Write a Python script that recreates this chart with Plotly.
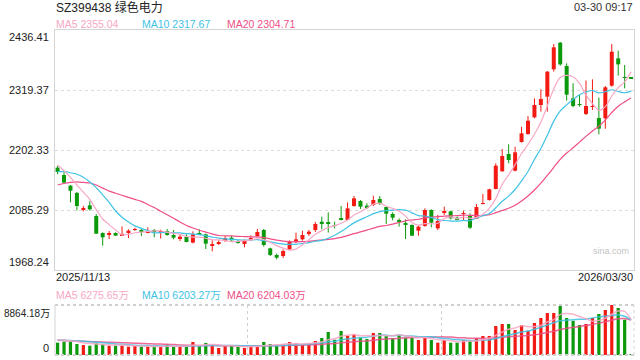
import plotly.graph_objects as go

# ---------------- data ----------------
title_text = "SZ399438 绿色电力"
time_text = "03-30 09:17"
start_date = "2025/11/13"
end_date = "2026/03/30"
price_ticks = [1968.24, 2085.29, 2202.33, 2319.37, 2436.41]
vol_max = 8864.18
ma_labels = ["MA5 2355.04", "MA10 2317.67", "MA20 2304.71"]
vol_ma_labels = ["MA5 6275.65万", "MA10 6203.27万", "MA20 6204.03万"]

opens = [2167.9, 2153.6, 2132.8, 2118.4, 2087.2, 2094.4, 2073.6, 2040.4, 2037.8, 2040.4,
         2036.5, 2040.4, 2046.3, 2045.0, 2041.1, 2045.0, 2041.1, 2044.3, 2036.5, 2028.7,
         2032.6, 2021.6, 2038.5, 2037.8, 2016.4, 2020.3, 2024.8, 2031.3, 2024.8, 2018.9,
         2028.7, 2034.6, 2046.3, 2010.5, 1997.5, 1995.5, 2008.5, 2023.5, 2028.0, 2039.8,
         2046.3, 2062.5, 2060.6, 2056.0, 2069.7, 2065.8, 2093.1, 2102.8, 2093.7, 2095.0,
         2106.7, 2091.1, 2077.5, 2064.5, 2058.6, 2056.0, 2044.9, 2054.1, 2085.3, 2049.5,
         2080.7, 2082.7, 2070.3, 2077.5, 2074.2, 2068.4, 2097.6, 2104.8, 2126.3, 2160.7,
         2194.5, 2162.0, 2217.9, 2233.5, 2266.1, 2290.1, 2306.4, 2359.7, 2411.7, 2366.2,
         2303.1, 2291.4, 2272.6, 2286.2, 2264.8, 2264.1, 2327.8, 2381.1, 2344.0, 2342.2]
highs = [2171.1, 2158.8, 2134.1, 2120.4, 2093.1, 2102.8, 2077.5, 2041.7, 2044.3, 2041.7,
         2053.4, 2047.6, 2050.8, 2048.2, 2051.5, 2048.2, 2046.9, 2048.2, 2046.3, 2036.5,
         2037.8, 2043.7, 2047.6, 2039.1, 2026.1, 2026.1, 2034.6, 2034.6, 2027.4, 2028.0,
         2035.9, 2048.2, 2048.2, 2011.8, 2000.1, 2008.5, 2026.1, 2041.1, 2044.9, 2046.3,
         2061.9, 2072.3, 2080.7, 2062.5, 2093.1, 2100.2, 2112.6, 2104.8, 2098.3, 2113.2,
         2112.6, 2091.1, 2080.7, 2069.0, 2067.1, 2057.3, 2054.7, 2088.5, 2086.6, 2075.5,
         2091.8, 2084.0, 2072.3, 2084.0, 2078.8, 2097.0, 2116.5, 2126.9, 2176.3, 2204.3,
         2213.4, 2208.8, 2247.8, 2268.7, 2303.1, 2320.7, 2356.4, 2409.1, 2413.0, 2371.4,
         2332.4, 2309.6, 2337.6, 2340.2, 2304.4, 2327.2, 2409.1, 2396.1, 2368.1, 2342.2]
lows = [2154.9, 2137.3, 2100.2, 2084.6, 2082.7, 2084.0, 2038.5, 2015.7, 2028.7, 2034.6,
        2035.9, 2030.6, 2044.3, 2034.6, 2039.8, 2032.0, 2029.4, 2035.2, 2028.1, 2024.8,
        2022.2, 2020.3, 2036.5, 2009.2, 2004.7, 2017.0, 2022.9, 2025.5, 2019.6, 2012.4,
        2024.8, 2032.0, 2013.7, 1995.5, 1989.0, 1991.6, 2007.2, 2020.3, 2025.5, 2034.6,
        2042.4, 2047.6, 2041.1, 2049.5, 2065.1, 2065.1, 2091.8, 2087.2, 2087.2, 2093.1,
        2095.0, 2058.0, 2065.1, 2052.8, 2028.7, 2034.6, 2035.2, 2052.8, 2051.5, 2046.3,
        2075.5, 2067.1, 2064.5, 2065.8, 2048.2, 2067.7, 2096.3, 2103.5, 2125.6, 2160.1,
        2176.3, 2160.7, 2216.6, 2232.2, 2264.1, 2277.1, 2277.1, 2355.1, 2366.8, 2298.6,
        2285.6, 2286.9, 2270.6, 2280.4, 2232.9, 2243.9, 2325.9, 2347.3, 2322.6, 2342.1]
closes = [2159.4, 2138.6, 2123.0, 2093.1, 2087.9, 2086.6, 2039.1, 2032.0, 2038.5, 2035.2,
          2038.5, 2045.0, 2047.6, 2043.7, 2043.0, 2043.7, 2043.7, 2036.5, 2031.3, 2033.3,
          2022.9, 2037.8, 2037.2, 2019.6, 2018.9, 2022.2, 2030.6, 2026.1, 2021.6, 2026.7,
          2029.4, 2042.4, 2017.0, 1997.5, 1992.3, 2005.3, 2023.5, 2028.0, 2036.5, 2043.0,
          2058.0, 2059.3, 2059.3, 2054.7, 2066.4, 2088.5, 2108.0, 2091.8, 2091.1, 2104.8,
          2097.6, 2078.1, 2070.3, 2063.2, 2057.3, 2035.2, 2052.8, 2085.3, 2060.6, 2063.8,
          2081.3, 2069.0, 2065.8, 2078.1, 2050.8, 2091.1, 2098.3, 2125.6, 2171.8, 2190.6,
          2182.8, 2197.8, 2234.8, 2259.5, 2290.1, 2301.8, 2355.1, 2402.6, 2369.4, 2310.3,
          2288.2, 2290.1, 2288.2, 2287.5, 2243.9, 2324.6, 2394.1, 2369.4, 2343.4, 2342.1]
volumes = [2186, 2364, 2364, 1950, 1773, 1655, 2068, 1891, 1655, 1655,
           1655, 1477, 1655, 1477, 1477, 1477, 1477, 1832, 1477, 1477,
           1477, 2305, 1655, 2127, 1655, 1241, 1655, 1655, 1477, 1241,
           1477, 1655, 2305, 1950, 1655, 1891, 2305, 2068, 1891, 2068,
           2482, 3014, 4077, 2718, 4255, 3427, 3605, 3073, 2836, 3900,
           3900, 3427, 3014, 3605, 3073, 3073, 2659, 3073, 2659, 2186,
           2659, 2186, 2186, 2659, 2541, 2955, 3368, 3368, 5141, 5496,
           5496, 4432, 5318, 4300, 5673, 6559, 7446, 7446, 8700, 6559,
           6050, 5318, 5496, 6559, 7269, 7978, 8864.18, 8332, 6264, 40]

ma5_start = [2173, 2162, 2149, 2134]
ma10_start = [2160, 2160, 2158, 2155, 2149, 2140, 2129, 2115, 2100]
ma20_start = [2134, 2137, 2139, 2140, 2139, 2138, 2134, 2128, 2122, 2118,
              2114, 2110, 2106, 2102, 2096, 2090, 2083, 2076, 2069]
vma5_start = [2700, 2620, 2520, 2400]
vma10_start = [2650, 2610, 2560, 2500, 2430, 2350, 2260, 2170, 2070]
vma20_start = [2600, 2560, 2520, 2470, 2430, 2390, 2350, 2300, 2260, 2220,
               2180, 2140, 2100, 2050, 2010, 1970, 1930, 1890, 1850]

# ---------------- styles ----------------
RED = "#f21b14"
GREEN = "#0c9a0c"
C_MA5 = "#f8a7c6"
C_MA10 = "#3fc3e4"
C_MA20 = "#ee4f88"
FONT = "Liberation Sans, Arial, Noto Sans CJK SC, sans-serif"

W, H = 640, 360
L, R, T, B = 55, 6, 30, 5
PW, PH = W - L - R, H - T - B


def px(x):
    return (x - L) / PW


def py(y):
    return (H - B - y) / PH


def moving_avg(vals, n, start):
    out = []
    for i in range(len(vals)):
        if i < n - 1:
            out.append(start[i])
        else:
            out.append(sum(vals[i - n + 1:i + 1]) / n)
    return out


idx = list(range(len(closes)))
up = [c >= o for o, c in zip(opens, closes)]

fig = go.Figure()

# wicks
for flag, col in [(True, RED), (False, GREEN)]:
    wx, wy = [], []
    for i in idx:
        if up[i] == flag:
            wx += [i, i, None]
            wy += [lows[i], highs[i], None]
    fig.add_trace(go.Scatter(x=wx, y=wy, mode="lines", line=dict(color=col, width=1),
                             hoverinfo="skip", xaxis="x", yaxis="y"))

# bodies
for flag, col in [(True, RED), (False, GREEN)]:
    bx, bb, bh = [], [], []
    for i in idx:
        if up[i] == flag:
            bx.append(i)
            bb.append(min(opens[i], closes[i]))
            bh.append(max(abs(closes[i] - opens[i]), 0.9))
    fig.add_trace(go.Bar(x=bx, y=bh, base=bb, width=0.62, marker=dict(color=col, line=dict(width=0)),
                         xaxis="x", yaxis="y"))

# price MAs
for vals, col in [(moving_avg(closes, 20, ma20_start), C_MA20),
                  (moving_avg(closes, 10, ma10_start), C_MA10),
                  (moving_avg(closes, 5, ma5_start), C_MA5)]:
    fig.add_trace(go.Scatter(x=idx, y=vals, mode="lines",
                             line=dict(color=col, width=1.2, shape="spline", smoothing=0.8),
                             xaxis="x", yaxis="y"))

# volume bars
fig.add_trace(go.Bar(x=idx, y=volumes, width=0.5,
                     marker=dict(color=[RED if u else GREEN for u in up], line=dict(width=0)),
                     xaxis="x2", yaxis="y2"))

for vals, col in [(moving_avg(volumes, 20, vma20_start), C_MA20),
                  (moving_avg(volumes, 10, vma10_start), C_MA10),
                  (moving_avg(volumes, 5, vma5_start), C_MA5)]:
    fig.add_trace(go.Scatter(x=idx, y=vals, mode="lines", opacity=0.85,
                             line=dict(color=col, width=1.5, shape="spline", smoothing=0.8),
                             xaxis="x2", yaxis="y2"))

main_bottom = py(270)
vol_top = py(305)
xr = [-0.4, len(closes) - 0.55]

fig.update_layout(
    width=W, height=H,
    margin=dict(l=L, r=R, t=T, b=B),
    paper_bgcolor="white", plot_bgcolor="white",
    showlegend=False, barmode="overlay",
    font=dict(family=FONT, size=11, color="#222"),
    xaxis=dict(domain=[0, 1], range=xr, anchor="y", showticklabels=False, showgrid=False,
               zeroline=False, showline=True, mirror=True, linecolor="#d4d4d4", linewidth=1,
               ticks=""),
    yaxis=dict(domain=[main_bottom, 1], range=[price_ticks[0], price_ticks[-1]], anchor="x",
               tickvals=price_ticks[1:-1], showticklabels=False, showgrid=True,
               gridcolor="#dcdcdc", griddash="dot", gridwidth=1, zeroline=False,
               showline=True, mirror=True, linecolor="#d4d4d4", linewidth=1, ticks=""),
    xaxis2=dict(domain=[0, 1], range=xr, anchor="y2", showticklabels=False,
                tickvals=[29.5, 59.5], showgrid=True, gridcolor="#d0d0d0", griddash="dot",
                zeroline=False, showline=False, ticks=""),
    yaxis2=dict(domain=[0, vol_top], range=[0, vol_max], anchor="x2", showticklabels=False,
                showgrid=False, zeroline=False, showline=False, ticks=""),
)

# volume panel border
shapes = [
    dict(type="line", xref="paper", yref="paper", x0=0, x1=1, y0=vol_top, y1=vol_top,
         line=dict(color="#cfcfcf", width=2, dash="dot")),
    dict(type="line", xref="paper", yref="paper", x0=0, x1=1, y0=0, y1=0,
         line=dict(color="#cfcfcf", width=2, dash="dot")),
    dict(type="line", xref="paper", yref="paper", x0=0, x1=0, y0=0, y1=vol_top,
         line=dict(color="#d4d4d4", width=1)),
    dict(type="line", xref="paper", yref="paper", x0=1, x1=1, y0=0, y1=vol_top,
         line=dict(color="#d4d4d4", width=1, dash="dot")),
]
fig.update_layout(shapes=shapes)


def ann(text, x, y, xanchor="left", yanchor="middle", size=11, color="#222"):
    fig.add_annotation(text=text, x=px(x), y=py(y), xref="paper", yref="paper",
                       xanchor=xanchor, yanchor=yanchor, showarrow=False,
                       font=dict(size=size, color=color, family=FONT))


ann(title_text, 54, 8, size=12, color="#222")
ann(time_text, 635, 7, xanchor="right", size=11, color="#333")
for t, x, c in zip(ma_labels, [54, 140, 225], [C_MA5, C_MA10, C_MA20]):
    ann(t, x, 24, size=10.5, color=c)

# price axis labels
ann(f"{price_ticks[-1]:.2f}", 51, 29, xanchor="right", yanchor="top", size=11, color="#222")
for v, yy in zip(price_ticks[1:-1][::-1], [90, 150, 210]):
    ann(f"{v:.2f}", 51, yy, xanchor="right", size=11, color="#222")
ann(f"{price_ticks[0]:.2f}", 51, 270, xanchor="right", yanchor="bottom", size=11, color="#222")

ann(start_date, 54, 277, size=11, color="#222")
ann(end_date, 635, 277, xanchor="right", size=11, color="#222")
ann("sina.com", 611, 251, xanchor="center", size=9, color="#c4c4c4")

for t, x, c in zip(vol_ma_labels, [54, 140, 225], [C_MA5, C_MA10, C_MA20]):
    ann(t, x, 295, size=10.5, color=c)
ann(f"{vol_max:.2f}万", 52, 313, xanchor="right", size=10, color="#222")
ann("0", 51, 348, xanchor="right", size=11, color="#222")

fig.write_html("out.html", config={"displayModeBar": False},
               post_script="document.body.style.margin='0';document.body.style.padding='0';")
